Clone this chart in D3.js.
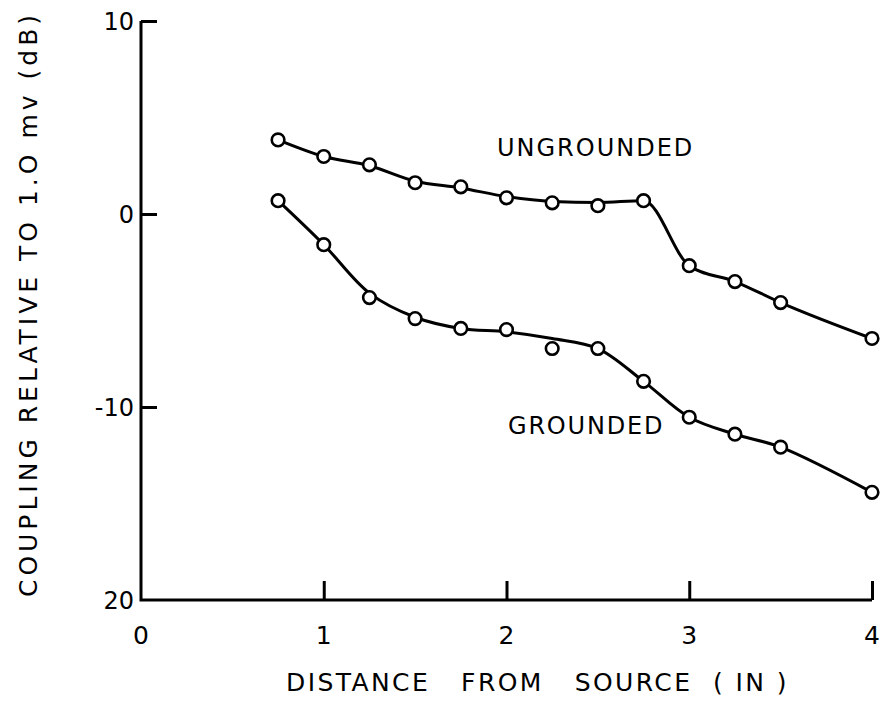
<!DOCTYPE html>
<html>
<head>
<meta charset="utf-8">
<script src="https://cdn.jsdelivr.net/npm/d3@7"></script>
<style>
  html, body { margin: 0; padding: 0; background: #fff; }
  svg { display: block; }
  text { font-family: "DejaVu Sans", sans-serif; fill: #000; white-space: pre; }
</style>
</head>
<body>
<svg id="chart" width="882" height="710"></svg>
<script>
// Distance from source (in) for each measurement
const distance = [0.75, 1, 1.25, 1.5, 1.75, 2, 2.25, 2.5, 2.75, 3, 3.25, 3.5, 4];

// Measured coupling (dB re 1.0 mV)
const ungrounded = [3.84, 2.98, 2.55, 1.62, 1.41, 0.84, 0.58, 0.43, 0.69, -2.68, -3.5, -4.59, -6.45];
const grounded   = [0.69, -1.59, -4.33, -5.42, -5.93, -5.99, -6.97, -6.97, -8.67, -10.53, -11.41, -12.08, -14.42];

// Hand-faired curves through the measurements
const ungroundedFit = [3.84, 2.98, 2.5, 1.7, 1.35, 0.9, 0.65, 0.6, 0.69, -2.68, -3.5, -4.59, -6.45];
const groundedFit   = [0.69, -1.59, -4.1, -5.35, -5.93, -6.1, -6.45, -6.97, -8.67, -10.53, -11.41, -12.08, -14.42];

// Axis ticks
const xTicks = [0, 1, 2, 3, 4];
const xTickLabels = ["0", "1", "2", "3", "4"];
const yTicks = [10, 0, -10, -20];
const yTickLabels = ["10", "0", "-10", "20"];

const svg = d3.select("#chart");

const x = d3.scaleLinear().domain([0, 4]).range([141, 872]);
const y = d3.scaleLinear().domain([10, -20]).range([21, 600]);

const ink = "#000";

// Axes (ticks point inward)
const xAxis = d3.axisBottom(x)
  .tickValues(xTicks.slice(1))
  .tickSize(-19)
  .tickFormat("");
const yAxis = d3.axisLeft(y)
  .tickValues(yTicks.slice(0, 3))
  .tickSize(-16)
  .tickFormat("");

const gx = svg.append("g").attr("transform", `translate(0,${y(-20)})`).call(xAxis);
const gy = svg.append("g").attr("transform", `translate(${x(0)},0)`).call(yAxis);
[gx, gy].forEach(g => {
  g.select(".domain").remove();
  g.selectAll(".tick line").attr("stroke", ink).attr("stroke-width", 3);
});
// Axis lines drawn as one path so the corner meets cleanly
svg.append("path")
  .attr("d", `M${x(0)},${y(10)} L${x(0)},${y(-20)} L${x(4)},${y(-20)}`)
  .attr("fill", "none").attr("stroke", ink).attr("stroke-width", 3)
  .attr("stroke-linejoin", "miter");

// Tick labels
svg.append("g").selectAll("text")
  .data(xTicks)
  .join("text")
  .attr("x", d => x(d))
  .attr("y", y(-20) + 44)
  .attr("text-anchor", "middle")
  .attr("font-size", 25)
  .text((d, i) => xTickLabels[i]);

svg.append("g").selectAll("text")
  .data(yTicks)
  .join("text")
  .attr("x", x(0) - 7)
  .attr("y", d => y(d))
  .attr("dy", "0.36em")
  .attr("text-anchor", "end")
  .attr("font-size", 24)
  .text((d, i) => yTickLabels[i]);

// Axis titles
svg.append("text")
  .attr("x", 286)
  .attr("y", 691)
  .attr("font-size", 25)
  .attr("letter-spacing", 2.4)
  .text("DISTANCE   FROM   SOURCE  ( IN )");

svg.append("text")
  .attr("transform", `translate(37,304) rotate(-90)`)
  .attr("text-anchor", "middle")
  .attr("font-size", 25)
  .attr("letter-spacing", 4)
  .text("COUPLING RELATIVE TO 1.O mv (dB)");

// Curves and measured points
const lineSharp = d3.line()
  .x(d => x(d[0]))
  .y(d => y(d[1]))
  .curve(d3.curveMonotoneX);
const lineSmooth = d3.line()
  .x(d => x(d[0]))
  .y(d => y(d[1]))
  .curve(d3.curveCatmullRom.alpha(0.5));

const series = [
  { name: "UNGROUNDED", pts: ungrounded, fit: ungroundedFit, line: lineSharp, lx: 497, ly: 156, ls: 2 },
  { name: "GROUNDED", pts: grounded, fit: groundedFit, line: lineSmooth, lx: 508, ly: 434, ls: 1.8 }
];

series.forEach(s => {
  svg.append("path")
    .attr("d", s.line(distance.map((d, i) => [d, s.fit[i]])))
    .attr("fill", "none")
    .attr("stroke", ink)
    .attr("stroke-width", 3)
    .attr("stroke-linecap", "round");

  svg.append("g").selectAll("circle")
    .data(distance.map((d, i) => [d, s.pts[i]]))
    .join("circle")
    .attr("cx", d => x(d[0]))
    .attr("cy", d => y(d[1]))
    .attr("r", 6.3)
    .attr("fill", "#fff")
    .attr("stroke", ink)
    .attr("stroke-width", 2.6);

  svg.append("text")
    .attr("x", s.lx)
    .attr("y", s.ly)
    .attr("font-size", 24)
    .attr("letter-spacing", s.ls)
    .text(s.name);
});
</script>
</body>
</html>
